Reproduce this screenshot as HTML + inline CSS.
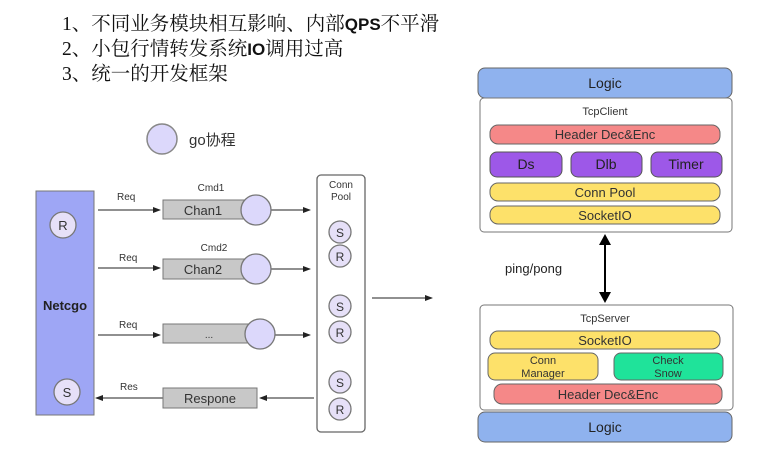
<!DOCTYPE html>
<html><head><meta charset="utf-8"><style>
html,body{margin:0;padding:0;background:#fff;width:769px;height:458px;overflow:hidden}
svg{display:block}
text{font-family:"Liberation Sans","Noto Sans CJK SC",sans-serif}
</style></head><body>
<svg width="769" height="458" viewBox="0 0 769 458" xmlns="http://www.w3.org/2000/svg">
<defs>
<marker id="a" markerWidth="8" markerHeight="6" refX="7" refY="3" orient="auto" markerUnits="userSpaceOnUse"><path d="M0,0 L8,3 L0,6 z" fill="#222"/></marker>
</defs>
<g font-size="19.5" fill="#111">
<text x="62" y="30" style="font-family:'Liberation Serif','Noto Serif CJK SC',serif">1、不同业务模块相互影响、内部<tspan style="font-family:'Liberation Sans',sans-serif" font-weight="bold" font-size="17">QPS</tspan>不平滑</text>
<text x="62" y="55" style="font-family:'Liberation Serif','Noto Serif CJK SC',serif">2、小包行情转发系统<tspan style="font-family:'Liberation Sans',sans-serif" font-weight="bold" font-size="17">IO</tspan>调用过高</text>
<text x="62" y="80" style="font-family:'Liberation Serif','Noto Serif CJK SC',serif">3、统一的开发框架</text>
</g>
<circle cx="162" cy="139" r="15" fill="#dcd8fb" stroke="#888" stroke-width="1.5"/>
<text x="189" y="145" font-size="15" fill="#333">go协程</text>

<rect x="36" y="191" width="58" height="224" fill="#9ea6f5" stroke="#777"/>
<text x="65" y="310" font-size="13" font-weight="bold" text-anchor="middle" fill="#222">Netcgo</text>
<g stroke="#777" stroke-width="1.3" fill="#e6e0f8">
<circle cx="63" cy="225" r="13"/><circle cx="67" cy="392" r="13"/>
</g>
<text x="63" y="230" font-size="13" text-anchor="middle" fill="#333">R</text>
<text x="67" y="397" font-size="13" text-anchor="middle" fill="#333">S</text>

<g stroke="#222" stroke-width="1" marker-end="url(#a)">
<line x1="98" y1="210" x2="160" y2="210"/>
<line x1="98" y1="268" x2="160" y2="268"/>
<line x1="98" y1="335" x2="160" y2="335"/>
<line x1="271" y1="210" x2="310" y2="210"/>
<line x1="271" y1="269" x2="310" y2="269"/>
<line x1="275" y1="335" x2="310" y2="335"/>
<line x1="314" y1="398" x2="260" y2="398"/>
<line x1="163" y1="398" x2="96" y2="398"/>
<line x1="372" y1="298" x2="432" y2="298"/>
</g>
<g font-size="10" fill="#333">
<text x="117" y="200">Req</text><text x="119" y="261">Req</text><text x="119" y="328">Req</text><text x="120" y="390">Res</text>
<text x="211" y="191" text-anchor="middle">Cmd1</text><text x="214" y="251" text-anchor="middle">Cmd2</text>
</g>
<g fill="#c8c8c8" stroke="#777">
<rect x="163" y="200" width="84" height="19"/>
<rect x="163" y="259" width="84" height="20"/>
<rect x="163" y="324" width="92" height="19"/>
<rect x="163" y="388" width="94" height="20"/>
</g>
<g font-size="13" fill="#333" text-anchor="middle">
<text x="203" y="215">Chan1</text><text x="203" y="274">Chan2</text><text x="209" y="338" font-size="10">...</text><text x="210" y="403">Respone</text>
</g>
<g fill="#dcd8fb" stroke="#777" stroke-width="1.3">
<circle cx="256" cy="210" r="15"/><circle cx="256" cy="269" r="15"/><circle cx="260" cy="334" r="15"/>
</g>

<rect x="317" y="175" width="48" height="257" rx="4" fill="#fff" stroke="#666" stroke-width="1.3"/>
<text x="341" y="188" font-size="10" fill="#333" text-anchor="middle">Conn</text>
<text x="341" y="200" font-size="10" fill="#333" text-anchor="middle">Pool</text>
<g fill="#e6e0f8" stroke="#777" stroke-width="1.3">
<circle cx="340" cy="232" r="11"/><circle cx="340" cy="256" r="11"/>
<circle cx="340" cy="306" r="11"/><circle cx="340" cy="332" r="11"/>
<circle cx="340" cy="382" r="11"/><circle cx="340" cy="409" r="11"/>
</g>
<g font-size="12" fill="#333" text-anchor="middle">
<text x="340" y="237">S</text><text x="340" y="261">R</text><text x="340" y="311">S</text><text x="340" y="337">R</text><text x="340" y="387">S</text><text x="340" y="414">R</text>
</g>

<rect x="478" y="68" width="254" height="30" rx="7" fill="#8fb2ee" stroke="#666"/>
<text x="605" y="88" font-size="14" text-anchor="middle" fill="#222">Logic</text>
<rect x="480" y="98" width="252" height="134" rx="4" fill="#fff" stroke="#777"/>
<text x="605" y="115" font-size="11" text-anchor="middle" fill="#333">TcpClient</text>
<rect x="490" y="125" width="230" height="19" rx="8" fill="#f58888" stroke="#666"/>
<text x="605" y="139" font-size="13" text-anchor="middle" fill="#333">Header Dec&amp;Enc</text>
<g fill="#9d58e8" stroke="#555">
<rect x="490" y="152" width="72" height="25" rx="7"/><rect x="571" y="152" width="71" height="25" rx="7"/><rect x="651" y="152" width="71" height="25" rx="7"/>
</g>
<g font-size="14" text-anchor="middle" fill="#222"><text x="526" y="169">Ds</text><text x="606" y="169">Dlb</text><text x="686" y="169">Timer</text></g>
<rect x="490" y="183" width="230" height="18" rx="8" fill="#fde16a" stroke="#666"/>
<text x="605" y="197" font-size="13" text-anchor="middle" fill="#333">Conn Pool</text>
<rect x="490" y="206" width="230" height="18" rx="8" fill="#fde16a" stroke="#666"/>
<text x="605" y="220" font-size="13" text-anchor="middle" fill="#333">SocketIO</text>

<line x1="605" y1="244" x2="605" y2="293" stroke="#000" stroke-width="2"/>
<path d="M599,245 L605,234 L611,245 z M599,292 L605,303 L611,292 z" fill="#000"/>
<text x="505" y="273" font-size="13" fill="#222">ping/pong</text>

<rect x="480" y="305" width="253" height="105" rx="4" fill="#fff" stroke="#777"/>
<text x="605" y="322" font-size="11" text-anchor="middle" fill="#333">TcpServer</text>
<rect x="490" y="331" width="230" height="18" rx="8" fill="#fde16a" stroke="#666"/>
<text x="605" y="345" font-size="13" text-anchor="middle" fill="#333">SocketIO</text>
<rect x="488" y="353" width="110" height="27" rx="7" fill="#fde16a" stroke="#666"/>
<text x="543" y="364" font-size="11" text-anchor="middle" fill="#333">Conn</text>
<text x="543" y="377" font-size="11" text-anchor="middle" fill="#333">Manager</text>
<rect x="614" y="353" width="109" height="27" rx="7" fill="#1fe39a" stroke="#666"/>
<text x="668" y="364" font-size="11" text-anchor="middle" fill="#333">Check</text>
<text x="668" y="377" font-size="11" text-anchor="middle" fill="#333">Snow</text>
<rect x="494" y="384" width="228" height="20" rx="8" fill="#f58888" stroke="#666"/>
<text x="608" y="399" font-size="13" text-anchor="middle" fill="#333">Header Dec&amp;Enc</text>
<rect x="478" y="412" width="254" height="30" rx="7" fill="#8fb2ee" stroke="#666"/>
<text x="605" y="432" font-size="14" text-anchor="middle" fill="#222">Logic</text>
</svg>
</body></html>
